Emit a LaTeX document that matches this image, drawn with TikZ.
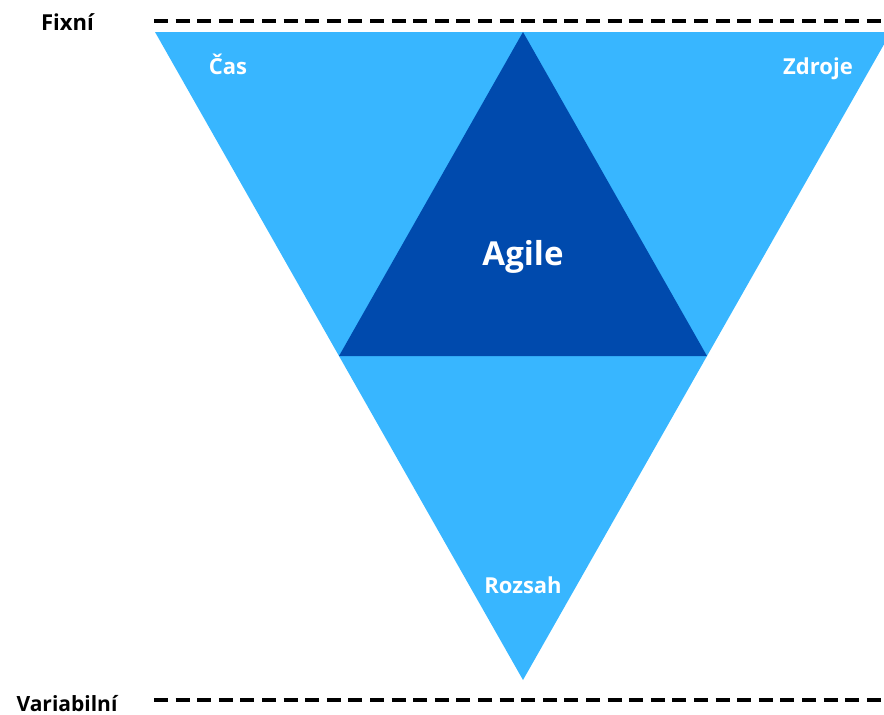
\documentclass[tikz,border=0pt]{standalone}
\usepackage{fontspec}
\setmainfont{Open Sans}
\definecolor{lightblue}{HTML}{38B6FF}
\definecolor{darkblue}{HTML}{004AAD}
\begin{document}
\begin{tikzpicture}[x=1pt,y=-1pt,
  dashline/.style={line width=4.5pt,dash pattern=on 14pt off 7.6pt},
  lbl/.style={anchor=base,inner sep=0pt,font=\bfseries\fontsize{22}{26}\selectfont},
  wlbl/.style={lbl,text=white}]
\useasboundingbox (0,0) rectangle (884,715);
\begin{scope}
\clip (0,0) rectangle (884,715);
\fill[lightblue] (155,32) -- (891,32) -- (523,680) -- cycle;
\end{scope}
\fill[darkblue] (523,32) -- (339,356) -- (707,356) -- cycle;
\coordinate (t1) at (154,21);
\coordinate (t2) at (884,21);
\coordinate (b1) at (154,700);
\coordinate (b2) at (884,700);
\draw[dashline] (t1) -- (t2);
\draw[dashline] (b1) -- (b2);
\node[lbl] (fix) at (67.5,30) {Fixní};
\node[lbl,font=\bfseries\fontsize{21}{25}\selectfont] (var) at (67,711) {Variabilní};
\node[wlbl] (cas) at (228,74) {Čas};
\node[wlbl] (zdr) at (818,74) {Zdroje};
\node[wlbl,font=\bfseries\fontsize{33}{40}\selectfont] (agile) at (523,265) {Agile};
\node[wlbl] (roz) at (523,593) {Rozsah};
\end{tikzpicture}
\end{document}
